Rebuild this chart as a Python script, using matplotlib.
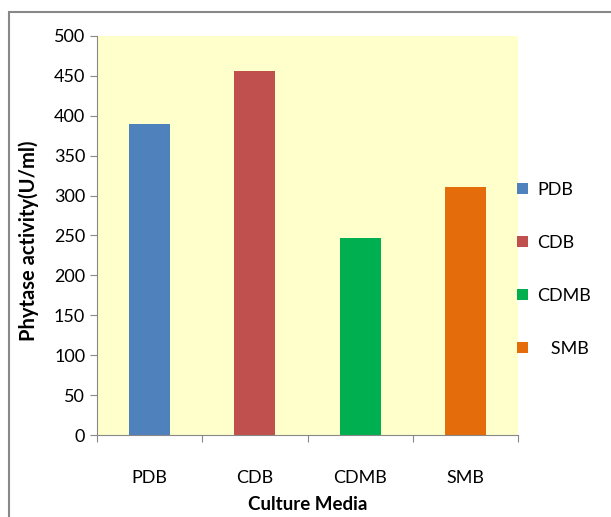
import numpy as np
import matplotlib.pyplot as plt
from matplotlib.patches import Rectangle

plt.rcParams['font.family'] = ['Lato', 'DejaVu Sans']

media = ["PDB", "CDB", "CDMB", "SMB"]
legend_labels = ["PDB", "CDB", "CDMB", "   SMB"]
activity = [390, 456, 247, 311]
colors = ["#4F81BD", "#C0504D", "#00B050", "#E46C0A"]

fig = plt.figure(figsize=(6.11, 5.17), dpi=100)
ax = fig.add_axes([0.1588, 0.1586, 0.689, 0.7718])
ax.set_facecolor("#FFFFCC")

x = np.arange(len(media))
for i in range(len(media)):
    ax.bar(x[i], activity[i], width=0.39, color=colors[i], label=legend_labels[i])

ax.set_xlim(-0.5, 3.5)
ax.set_ylim(0, 500)
ax.set_yticks(np.arange(0, 501, 50))
ax.set_xticks(np.arange(-0.5, 4, 1))
ax.set_xticklabels([])
for i, m in enumerate(media):
    ax.text(x[i], -0.108, m, transform=ax.get_xaxis_transform(), ha="center", va="center", fontsize=13)

for s in ["top", "right"]:
    ax.spines[s].set_visible(False)
for s in ["left", "bottom"]:
    ax.spines[s].set_color("#888888")
ax.tick_params(axis="both", colors="#888888", length=5, labelcolor="black", labelsize=13)

# axis titles placed by hand, like the original
ax.text(-0.162, 0.486, "Phytase activity(U/ml)", transform=ax.transAxes, rotation=90,
        ha="center", va="center", fontsize=14.5, fontweight="bold")
ax.text(0.5, -0.175, "Culture Media", transform=ax.transAxes, ha="center", va="center",
        fontsize=13.5, fontweight="bold")

ax.legend(loc="center left", bbox_to_anchor=(0.96, 0.415), frameon=False, fontsize=13,
          labelspacing=2.05, handlelength=0.6, handleheight=0.6, handletextpad=0.5)

fig.patches.append(Rectangle((9 / 611, -0.05), 1.1, (517 - 12) / 517 + 0.05,
                             transform=fig.transFigure, fill=False, edgecolor="#888888", lw=1.5))

fig.savefig("out.png", dpi=100)
